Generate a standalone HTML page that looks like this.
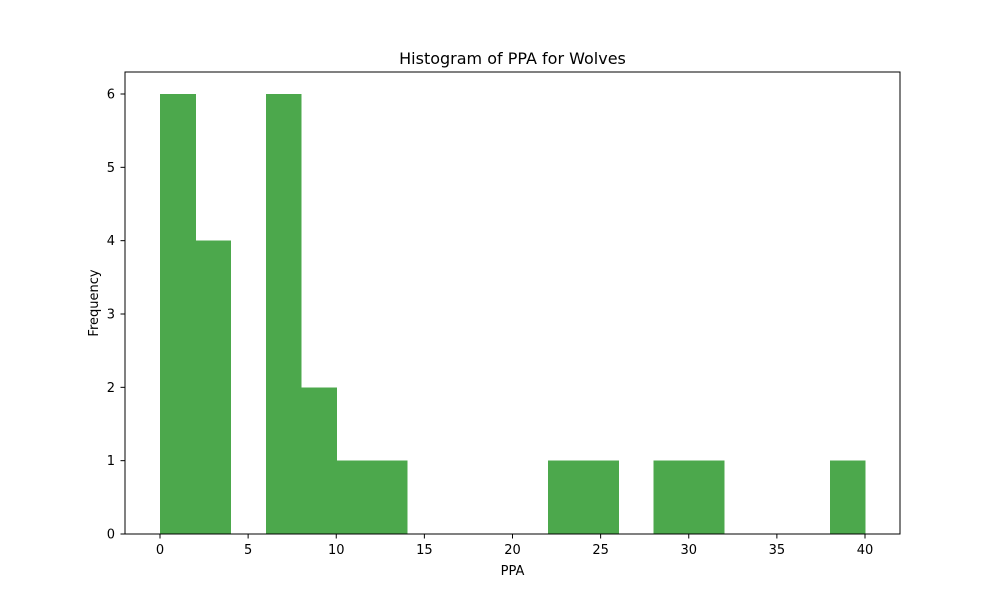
<!DOCTYPE html>
<html><head><meta charset="utf-8"><style>
body{margin:0;background:#fff;font-family:"Liberation Sans","DejaVu Sans",sans-serif}
svg text{font-family:"DejaVu Sans","Liberation Sans",sans-serif;fill:#000}
</style></head><body>
<svg id="chart" width="1000" height="600" xmlns="http://www.w3.org/2000/svg">
<rect width="1000" height="600" fill="#fff"/>
<text x="512.5" y="64" font-size="16" text-anchor="middle">Histogram of PPA for Wolves</text>
<g id="bars" shape-rendering="crispEdges"></g>
<rect x="125" y="72" width="775" height="462" fill="none" stroke="#000" stroke-width="1" shape-rendering="crispEdges"/>
<g id="xticks"></g><g id="yticks"></g>
<text x="512.5" y="575" font-size="13" text-anchor="middle">PPA</text>
<text x="98" y="303" font-size="13" text-anchor="middle" transform="rotate(-90 98 303)">Frequency</text>
</svg>
<script>
const binEdges=[0,2,4,6,8,10,12,14,16,18,20,22,24,26,28,30,32,34,36,38,40];
const counts=[6,4,0,6,2,1,1,0,0,0,0,1,1,0,1,1,0,0,0,1];
const xTicks=[0,5,10,15,20,25,30,35,40];
const yTicks=[0,1,2,3,4,5,6];
const NS="http://www.w3.org/2000/svg";
const xs=v=>160+v*(865-160)/40;
const ys=v=>534-v*(534-94)/6;
const bars=document.getElementById('bars');
counts.forEach((c,i)=>{if(!c)return;
const r=document.createElementNS(NS,'rect');


r.setAttribute('x',xs(binEdges[i]));r.setAttribute('width',xs(binEdges[i+1])-xs(binEdges[i])+0.5);
r.setAttribute('y',ys(c));r.setAttribute('height',ys(0)-ys(c));
r.setAttribute('fill','#4ca84c');bars.appendChild(r);});
const xg=document.getElementById('xticks');
xTicks.forEach(t=>{const x=xs(t);
const l=document.createElementNS(NS,'line');


l.setAttribute('x1',x);l.setAttribute('x2',x);l.setAttribute('y1',534);l.setAttribute('y2',538.5);l.setAttribute('stroke','#000');xg.appendChild(l);
const tx=document.createElementNS(NS,'text');


tx.setAttribute('x',x);tx.setAttribute('y',554);tx.setAttribute('font-size','13');tx.setAttribute('text-anchor','middle');tx.textContent=t;xg.appendChild(tx);});
const yg=document.getElementById('yticks');
yTicks.forEach(t=>{const y=ys(t);
const l=document.createElementNS(NS,'line');


l.setAttribute('x1',120.5);l.setAttribute('x2',125);l.setAttribute('y1',y);l.setAttribute('y2',y);l.setAttribute('stroke','#000');yg.appendChild(l);
const tx=document.createElementNS(NS,'text');


tx.setAttribute('x',115);tx.setAttribute('y',y+4.5);tx.setAttribute('font-size','13');tx.setAttribute('text-anchor','end');tx.textContent=t;yg.appendChild(tx);});
</script>
</body></html>
